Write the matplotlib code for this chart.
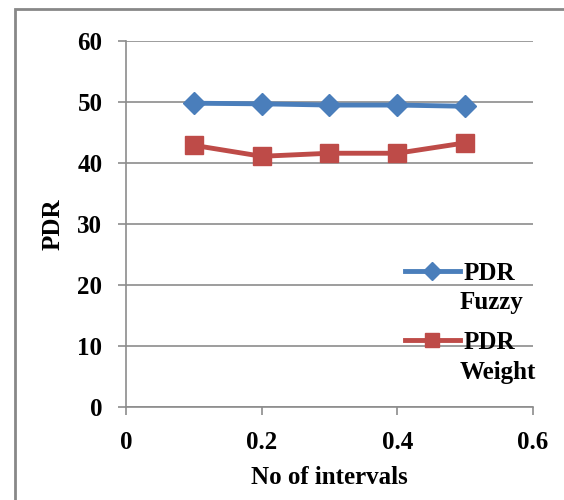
import matplotlib
matplotlib.use("Agg")
import matplotlib.pyplot as plt
from matplotlib.patches import Rectangle

x_vals = [0.1, 0.2, 0.3, 0.4, 0.5]
pdr_fuzzy = [49.8, 49.7, 49.5, 49.5, 49.3]
pdr_weight = [42.9, 41.1, 41.6, 41.6, 43.3]
x_ticks = [0, 0.2, 0.4, 0.6]
x_tick_labels = ["0", "0.2", "0.4", "0.6"]
y_ticks = [0, 10, 20, 30, 40, 50, 60]
series_names = ["PDR", "PDR"]
series_second = ["Fuzzy", "Weight"]

plt.rcParams['font.family'] = ['Liberation Serif', 'DejaVu Serif']
plt.rcParams['font.weight'] = 'bold'

FS = 18
fig = plt.figure(figsize=(5.64, 5.0), dpi=100)
fig.patches.append(Rectangle((15/564, -0.1), 1.2, 1.1 - 9/500, transform=fig.transFigure,
                             fill=False, edgecolor='#888888', linewidth=2.0, zorder=0))
ax = fig.add_axes([126/564, 1 - 407/500, 407/564, 366/500])

l1, = ax.plot(x_vals, pdr_fuzzy, color='#4A7EBB', linewidth=3.5, marker='D', markersize=11,
              zorder=3)
l2, = ax.plot(x_vals, pdr_weight, color='#BE4B48', linewidth=3.5, marker='s', markersize=13,
              zorder=3)

ax.set_xlim(0, 0.6)
ax.set_ylim(0, 60)
ax.set_xticks(x_ticks)
ax.set_xticklabels(x_tick_labels)
ax.set_yticks(y_ticks)
ax.grid(axis='y', color='#8c8c8c', linewidth=1.2)
ax.set_axisbelow(True)
for s in ['top', 'right']:
    ax.spines[s].set_visible(False)
for s in ['left', 'bottom']:
    ax.spines[s].set_color('#8c8c8c')
    ax.spines[s].set_linewidth(1.2)
ax.tick_params(axis='both', colors='#8c8c8c', length=6, width=1.2, labelsize=FS,
               labelcolor='black')
ax.tick_params(axis='x', pad=11)
ax.tick_params(axis='y', pad=11)
ax.set_xlabel('No of intervals', fontsize=FS, fontweight='bold', labelpad=9)
ax.set_ylabel('PDR', fontsize=FS, fontweight='bold', labelpad=9)

leg = ax.legend([l1, l2], series_names, loc='upper left', bbox_to_anchor=(0.66, 0.423),
                frameon=False, fontsize=FS, handlelength=2.2, handletextpad=0.15,
                labelspacing=1.83, borderaxespad=0, markerscale=0.8)
for t in leg.get_texts():
    t.set_fontweight('bold')

y_second = [(407 - 302) / 366, (407 - 372) / 366]
for name, yy in zip(series_second, y_second):
    ax.text((460 - 126) / 407, yy, name, transform=ax.transAxes, fontsize=FS,
            fontweight='bold', va='center', ha='left', clip_on=False)

fig.savefig('out.png', dpi=100)
